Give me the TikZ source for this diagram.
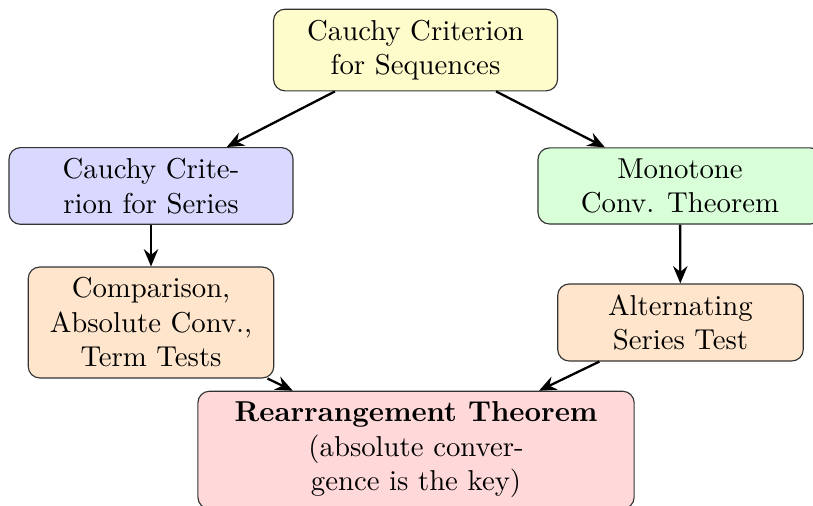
\documentclass[tikz,border=0pt]{standalone}
\usetikzlibrary{arrows.meta}

\begin{document}
\begin{tikzpicture}[
  box/.style={
    draw=black!80,
    rounded corners,
    align=center,
    inner xsep=6pt,
    inner ysep=3.7pt,
    minimum width=3.47cm,
    },
  seqbox/.style={box, fill=yellow!20},
  seriesbox/.style={box, fill=blue!15},
  monobox/.style={box, fill=green!15},
  testbox/.style={box, fill=orange!20, minimum width=3cm},
  keybox/.style={box, fill=red!15, minimum width=5.33cm},
  arrow/.style={thick, -{Stealth[length=6pt, width=5pt, inset=2pt]}},
  ]
\useasboundingbox (0,0) rectangle (9.933,-6.182);
\clip (0,0) rectangle (9.933,-6.182);
\node[seqbox] (seq) at (5.077,-0.611) {Cauchy Criterion\\for Sequences};
\node[seriesbox] (series) at (1.845,-2.272) {Cauchy Crite-\\rion for Series};
\node[monobox] (mono) at (8.308,-2.272) {Monotone\\Conv. Theorem};
\node[testbox] (comp) at (1.845,-3.940) {Comparison,\\Absolute Conv.,\\Term Tests};
\node[testbox] (alt) at (8.314,-3.940) {Alternating\\Series Test};
\node[keybox] (rearr) at (5.083,-5.498)
  {\textbf{Rearrangement Theorem}\\(absolute conver-\\gence is the key)};
\draw[arrow] (seq) -- (series);
\draw[arrow] (seq) -- (mono);
\draw[arrow] (series) -- (comp);
\draw[arrow] (mono) -- (alt);
\draw[arrow] (comp) -- (rearr);
\draw[arrow] (alt) -- (rearr);
\end{tikzpicture}
\end{document}
